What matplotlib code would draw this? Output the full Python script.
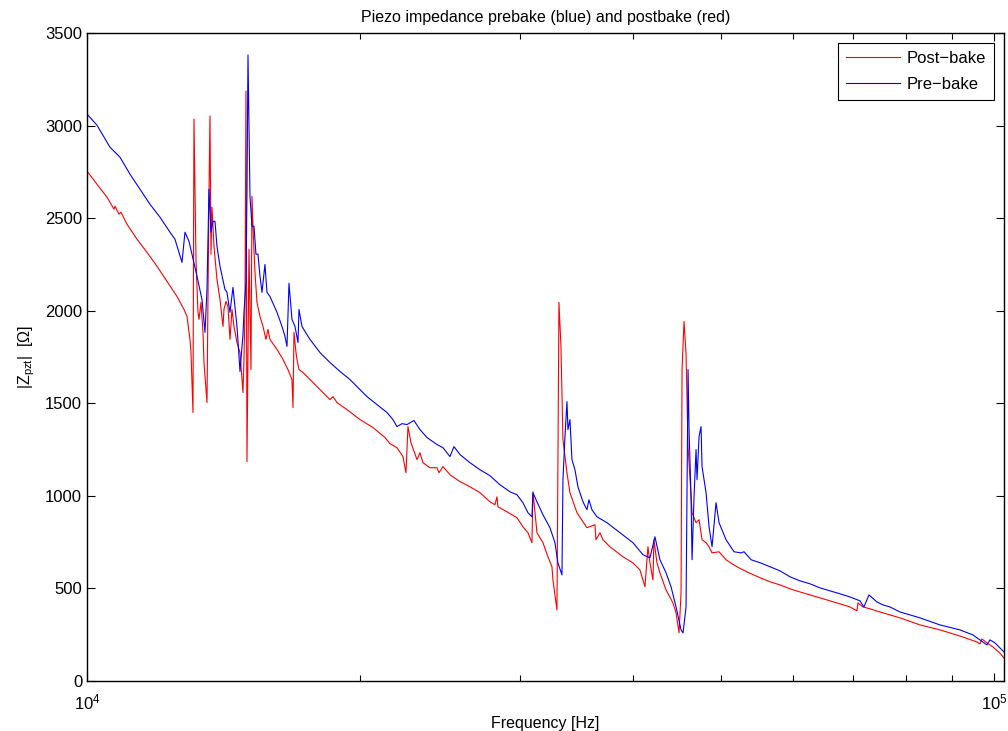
import numpy as np
import matplotlib
matplotlib.use('Agg')
import matplotlib.pyplot as plt
from matplotlib.ticker import LogLocator, NullFormatter

plt.rcParams['font.family'] = ['Liberation Sans', 'DejaVu Sans']
plt.rcParams['mathtext.fontset'] = 'custom'
plt.rcParams['mathtext.rm'] = 'Liberation Sans'
plt.rcParams['mathtext.default'] = 'regular'

# pre-bake sweep (blue)
f_pre = [10000, 10257, 10601, 10874, 11154, 11440, 11734, 12036, 12346, 12503,
         12728, 12825, 12956, 13222, 13390, 13493, 13562, 13631, 13700, 13770,
         13840, 13910, 14017, 14196, 14268, 14377, 14487, 14561, 14635, 14747,
         14860, 14897, 14973, 15011, 15050, 15126, 15203, 15281, 15358, 15437,
         15515, 15594, 15713, 15793, 15914, 16200, 16407, 16532, 16616, 16701,
         16828, 16957, 17087, 17130, 17261, 17393, 17615, 18068, 18533, 19010,
         19498, 19848, 20358, 20882, 21419, 21747, 21969, 22250, 22534, 22938,
         23290, 23708, 24318, 24691, 25134, 25390, 25780, 26443, 27123, 27819,
         28534, 29268, 29793, 30250, 30636, 30949, 31028, 31345, 31826, 32397,
         32810, 33061, 33399, 33484, 33655, 33826, 33912, 34084, 34258, 34520,
         34784, 35228, 35588, 35769, 36043, 36503, 37442, 38698, 39997, 41025,
         41761, 42295, 42835, 43503, 44059, 44622, 45192, 45422, 45769, 46002,
         46119, 46354, 46472, 46708, 46946, 47066, 47305, 47546, 47667, 48154,
         48521, 48893, 49391, 49769, 50662, 51701, 52628, 53031, 53982, 55290,
         56636, 58093, 59587, 61118, 62689, 64301, 65955, 67651, 69390, 71174,
         71901, 72819, 74314, 75455, 76808, 78782, 82886, 87202, 91745, 94823,
         96523, 98254, 99004, 100270, 101551, 102588]
z_pre = [3062, 3002, 2883, 2829, 2737, 2656, 2575, 2505, 2424, 2386,
         2261, 2424, 2375, 2186, 2061, 1883, 2115, 2656, 2424, 2483,
         2483, 2348, 2240, 2115, 2099, 1991, 2126, 2023, 1915, 1672,
         1872, 1991, 2153, 2640, 3381, 2618, 2456, 2456, 2305, 2305,
         2186, 2099, 2250, 2099, 2077, 1991, 1915, 1861, 1807, 2148,
         1953, 1915, 1828, 2007, 1915, 1888, 1845, 1774, 1720, 1672,
         1628, 1590, 1536, 1493, 1450, 1412, 1374, 1390, 1385, 1407,
         1358, 1315, 1277, 1260, 1212, 1266, 1223, 1179, 1141, 1109,
         1060, 1022, 1006, 963, 909, 887, 1017, 968, 898, 828,
         747, 638, 573, 1087, 1320, 1509, 1358, 1412, 1196, 1141,
         1049, 968, 925, 979, 925, 887, 855, 801, 747, 682,
         665, 779, 655, 584, 509, 400, 276, 260, 400, 1682,
         1358, 995, 655, 995, 1250, 1087, 1320, 1374, 1158, 1017,
         833, 725, 963, 855, 763, 698, 692, 698, 655, 638,
         617, 595, 563, 541, 525, 503, 487, 471, 454, 433,
         400, 465, 427, 411, 400, 373, 341, 303, 276, 249,
         222, 195, 222, 206, 179, 157]

# post-bake sweep (red)
f_post = [10000, 10257, 10521, 10710, 10737, 10846, 10902, 11069, 11354, 11646,
          11945, 12252, 12567, 12792, 12890, 12989, 13022, 13088, 13121, 13188,
          13255, 13289, 13357, 13425, 13459, 13562, 13631, 13665, 13700, 13735,
          13805, 13910, 14017, 14124, 14160, 14232, 14304, 14377, 14450, 14524,
          14635, 14747, 14860, 14897, 14935, 14973, 15011, 15088, 15165, 15203,
          15242, 15319, 15397, 15515, 15634, 15753, 15833, 15914, 16200, 16448,
          16658, 16828, 16871, 16914, 17000, 17044, 17130, 17305, 17482, 17750,
          18068, 18533, 18675, 18865, 19350, 19999, 20671, 21310, 21582, 21969,
          22306, 22477, 22591, 22764, 23114, 23290, 23468, 23889, 24318, 24442,
          24691, 25134, 25780, 26443, 27123, 27819, 28174, 28318, 28390, 29046,
          29793, 30250, 30636, 30949, 31028, 31345, 31826, 32233, 32562, 32644,
          32978, 33146, 33314, 33484, 33826, 34084, 34696, 35588, 36318, 36411,
          36783, 37064, 37728, 38994, 39997, 40714, 41234, 41550, 41761, 42080,
          42187, 42510, 42835, 43503, 44271, 44622, 44963, 45192, 45307, 45537,
          45769, 46002, 46472, 46946, 47305, 47667, 48154, 48521, 48893, 49769,
          50662, 51439, 52362, 53708, 55290, 56636, 58093, 59587, 61118, 62689,
          64301, 65955, 67651, 69390, 70634, 70814, 71719, 73005, 74882, 78782,
          82886, 87202, 91745, 95791, 96523, 97014, 98254, 99762, 101551, 102588]
z_post = [2754, 2683, 2613, 2548, 2564, 2521, 2532, 2467, 2386, 2315,
          2240, 2158, 2077, 2007, 1969, 1845, 1774, 1450, 3035, 2277,
          1991, 1953, 2045, 1883, 1720, 1504, 2640, 3051, 2305, 2559,
          2348, 2169, 2061, 1915, 2007, 2050, 2023, 1845, 2007, 1915,
          1828, 1774, 1558, 1737, 2007, 3186, 1185, 2332, 1682, 2618,
          2456, 2207, 2045, 1969, 1915, 1845, 1899, 1845, 1791, 1737,
          1682, 1628, 1477, 1883, 1774, 1737, 1682, 1666, 1645, 1612,
          1574, 1520, 1536, 1504, 1466, 1412, 1369, 1315, 1282, 1260,
          1212, 1125, 1374, 1287, 1196, 1233, 1179, 1152, 1152, 1125,
          1158, 1114, 1077, 1049, 1017, 968, 952, 995, 941, 914,
          882, 833, 801, 747, 1022, 801, 747, 671, 617, 546,
          384, 2045, 1807, 1304, 1125, 1017, 909, 828, 844, 763,
          801, 763, 725, 671, 638, 600, 509, 725, 638, 546,
          763, 638, 584, 492, 422, 368, 260, 476, 1682, 1942,
          1764, 1266, 909, 855, 871, 763, 747, 725, 692, 698,
          655, 633, 611, 584, 557, 536, 519, 498, 481, 465,
          449, 433, 417, 400, 379, 422, 400, 390, 373, 341,
          303, 276, 243, 211, 200, 227, 206, 184, 151, 124]

fig = plt.figure(figsize=(10.08, 7.31), dpi=100)
ax = fig.add_axes([0.0863, 0.0684, 0.9097, 0.8865])

ax.semilogx(f_post, z_post, color=(1, 0, 0), lw=0.8, label='Post\u2212bake')
ax.semilogx(f_pre, z_pre, color=(0, 0, 1), lw=0.8, label='Pre\u2212bake')

ax.set_xlim(1e4, 1.026e5)
ax.set_ylim(0, 3500)
ax.set_yticks(np.arange(0, 3501, 500))
ax.xaxis.set_major_locator(LogLocator(base=10, numticks=10))
ax.xaxis.set_minor_locator(LogLocator(base=10, subs=np.arange(2, 10), numticks=20))
ax.xaxis.set_minor_formatter(NullFormatter())

ax.tick_params(which='both', direction='in', top=True, right=True, labelsize=12, width=0.8)
ax.tick_params(which='major', length=6)
ax.tick_params(which='minor', length=4)
ax.tick_params(axis='x', which='major', pad=8)
for s in ax.spines.values():
    s.set_linewidth(1.0)

ax.set_title('Piezo impedance prebake (blue) and postbake (red)', fontsize=11.5, pad=8)
ax.set_xlabel('Frequency [Hz]', fontsize=11.5, labelpad=3)
ax.set_ylabel('|Z$_{pzt}$|  [\u03a9]', fontsize=11.5, labelpad=6)

leg = ax.legend(loc='upper right', fontsize=12, fancybox=False, framealpha=1,
                edgecolor='black', borderaxespad=0.6, handlelength=3.2,
                handletextpad=0.4, borderpad=0.5, labelspacing=0.65)
leg.get_frame().set_linewidth(0.8)

fig.savefig('out.png', dpi=100)
